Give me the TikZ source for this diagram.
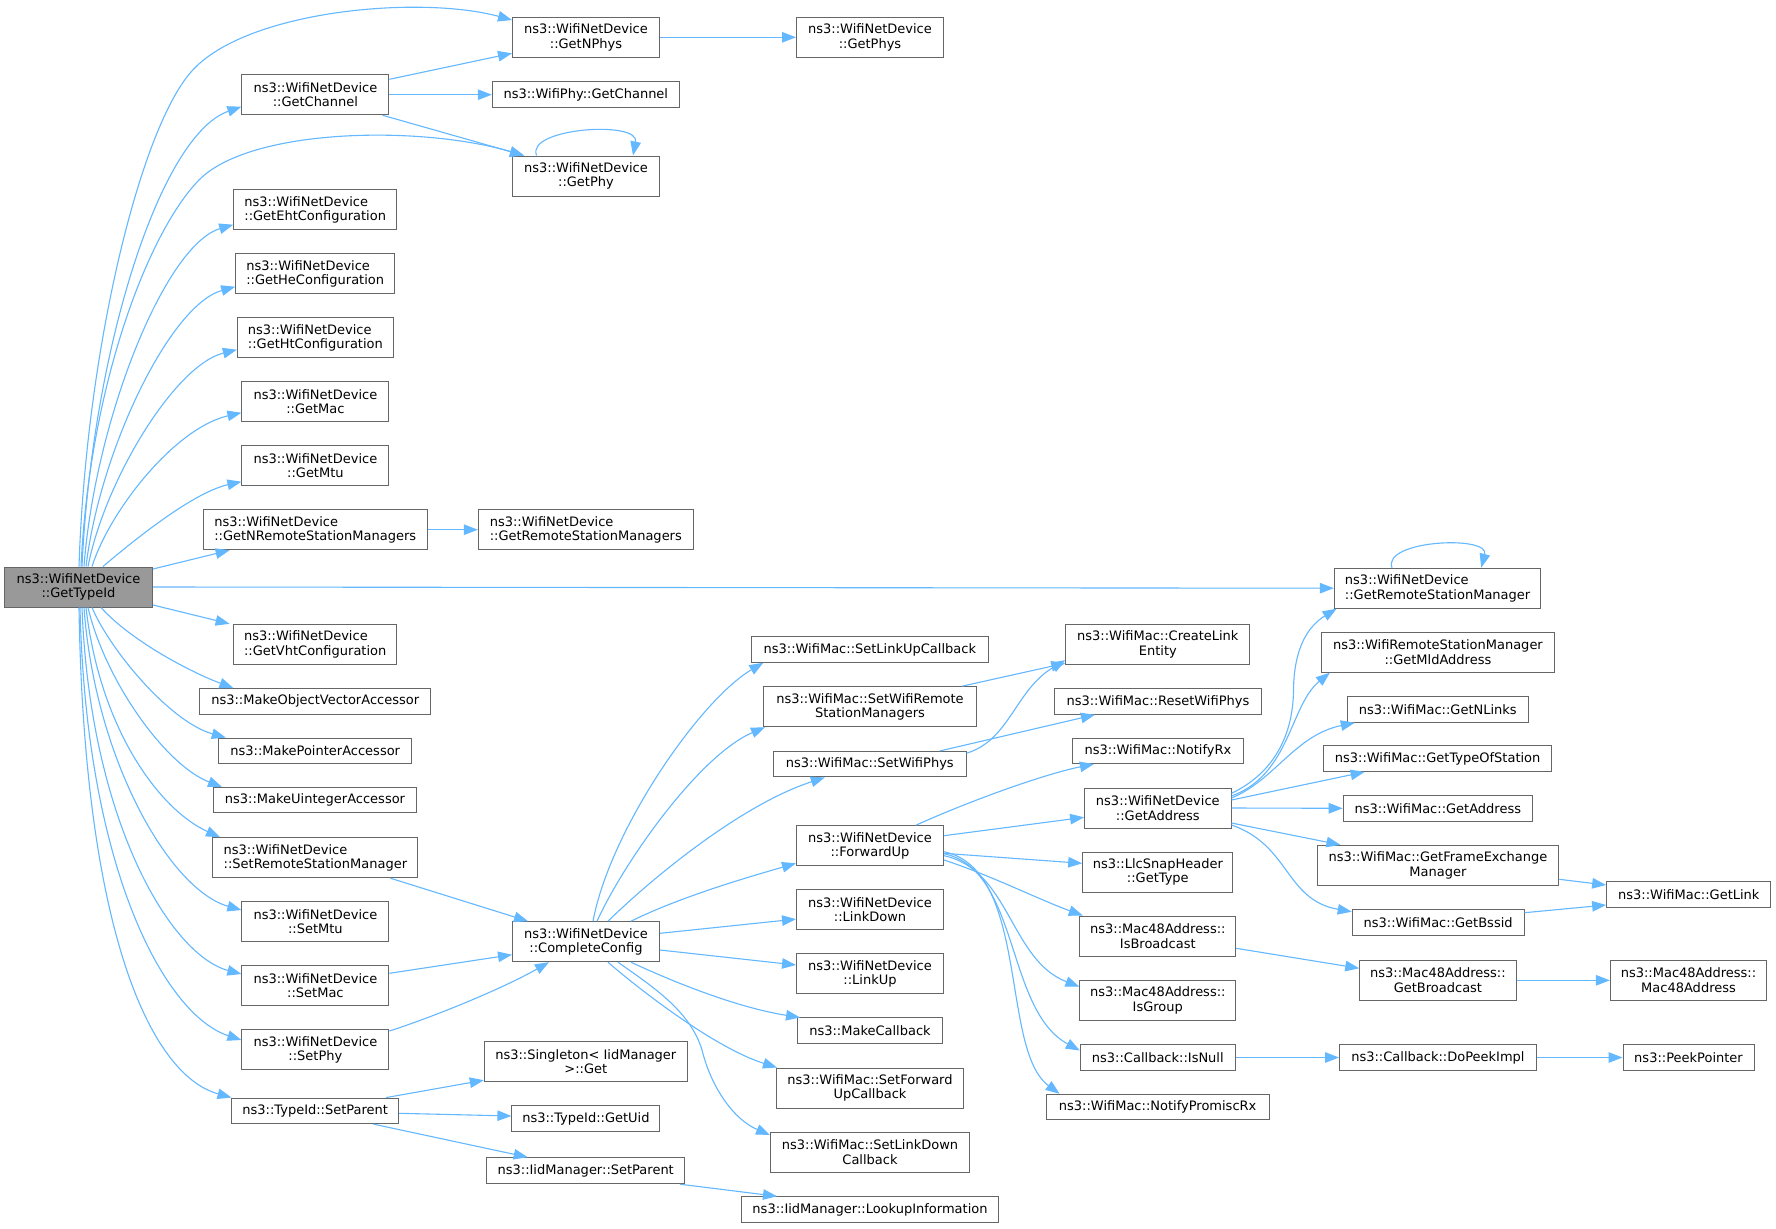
\documentclass[tikz,border=0pt]{standalone}
\usepackage{fontspec}
\setmainfont{DejaVu Sans}
\usetikzlibrary{arrows.meta}
\definecolor{boxgray}{HTML}{666666}
\definecolor{rootfill}{HTML}{999999}
\definecolor{edgeblue}{HTML}{63B8FF}
\begin{document}
\begin{tikzpicture}[x=1pt,y=-1pt,
  fn/.style={draw=boxgray, fill=white, line width=1pt, inner sep=0pt, align=center, text=black, font=\fontsize{13}{14.5}\selectfont},
  fnl/.style={fn, align=left},
  one/.style={minimum height=25.5pt},
  two/.style={minimum height=40pt},
  link/.style={draw=edgeblue, line width=1.1pt, -{Triangle[length=14pt,width=10.5pt]}}]
\fill[white] (0,0) rectangle (1776,1228);
\useasboundingbox (0,0) rectangle (1776,1228);

% column 0
\node[fn,two,fill=rootfill,minimum width=148pt] (gettypeid) at (78.5,587) {ns3::WifiNetDevice\\::GetTypeId};
% column 1
\node[fn,two,minimum width=147pt] (getchannel) at (315.4,94.7) {ns3::WifiNetDevice\\::GetChannel};
\node[fnl,two,minimum width=163pt] (geteht) at (315.2,209.7) {ns3::WifiNetDevice\\::GetEhtConfiguration};
\node[fnl,two,minimum width=159pt] (gethe) at (315.2,273.7) {ns3::WifiNetDevice\\::GetHeConfiguration};
\node[fnl,two,minimum width=156pt] (getht) at (315.4,337.7) {ns3::WifiNetDevice\\::GetHtConfiguration};
\node[fn,two,minimum width=147pt] (getmac) at (315.4,401.7) {ns3::WifiNetDevice\\::GetMac};
\node[fn,two,minimum width=147pt] (getmtu) at (315.4,465.7) {ns3::WifiNetDevice\\::GetMtu};
\node[fnl,two,minimum width=224pt] (getnrsm) at (315.2,529.7) {ns3::WifiNetDevice\\::GetNRemoteStationManagers};
\node[fnl,two,minimum width=163pt] (getvht) at (315.2,644.3) {ns3::WifiNetDevice\\::GetVhtConfiguration};
\node[fn,one,minimum width=231pt] (makeobjvec) at (315.2,701.3) {ns3::MakeObjectVectorAccessor};
\node[fn,one,minimum width=193pt] (makeptr) at (315.2,750.8) {ns3::MakePointerAccessor};
\node[fn,one,minimum width=203pt] (makeuint) at (315,800.2) {ns3::MakeUintegerAccessor};
\node[fnl,two,minimum width=205pt] (setrsm) at (315.4,857.7) {ns3::WifiNetDevice\\::SetRemoteStationManager};
\node[fn,two,minimum width=147pt] (setmtu) at (315.4,921.7) {ns3::WifiNetDevice\\::SetMtu};
\node[fn,two,minimum width=147pt] (setmac) at (315.4,985.7) {ns3::WifiNetDevice\\::SetMac};
\node[fn,two,minimum width=147pt] (setphy) at (315.4,1049.7) {ns3::WifiNetDevice\\::SetPhy};
\node[fn,one,minimum width=167pt] (setparent) at (315.2,1110.8) {ns3::TypeId::SetParent};
% column 2
\node[fn,two,minimum width=147pt] (getnphys) at (586,37.3) {ns3::WifiNetDevice\\::GetNPhys};
\node[fn,one,minimum width=187pt] (wpgetchannel) at (585.8,94.7) {ns3::WifiPhy::GetChannel};
\node[fn,two,minimum width=147pt] (getphy) at (586,176) {ns3::WifiNetDevice\\::GetPhy};
\node[fnl,two,minimum width=215pt] (getrsms) at (585.8,529.7) {ns3::WifiNetDevice\\::GetRemoteStationManagers};
\node[fn,two,minimum width=147pt] (completeconfig) at (586,941.7) {ns3::WifiNetDevice\\::CompleteConfig};
\node[fn,two,minimum width=203pt] (singleton) at (585.8,1061.7) {ns3::Singleton< IidManager\\>::Get};
\node[fn,minimum height=26pt,minimum width=148pt] (getuid) at (585.9,1118.7) {ns3::TypeId::GetUid};
\node[fn,minimum height=26pt,minimum width=197.5pt] (iidsetparent) at (585.7,1170.7) {ns3::IidManager::SetParent};
% column 3
\node[fn,two,minimum width=147pt] (getphys) at (870,37.3) {ns3::WifiNetDevice\\::GetPhys};
\node[fn,one,minimum width=237pt] (setlinkupcb) at (869.8,649.5) {ns3::WifiMac::SetLinkUpCallback};
\node[fn,two,minimum width=213pt] (setwifirsm) at (870,706.7) {ns3::WifiMac::SetWifiRemote\\StationManagers};
\node[fn,one,minimum width=192.5pt] (setwifiphys) at (869.8,764.2) {ns3::WifiMac::SetWifiPhys};
\node[fn,two,minimum width=147pt] (forwardup) at (870,845.7) {ns3::WifiNetDevice\\::ForwardUp};
\node[fn,two,minimum width=147pt] (linkdown) at (870,909.7) {ns3::WifiNetDevice\\::LinkDown};
\node[fn,two,minimum width=147pt] (linkup) at (870,973.7) {ns3::WifiNetDevice\\::LinkUp};
\node[fn,one,minimum width=145pt] (makecallback) at (870,1030.7) {ns3::MakeCallback};
\node[fn,two,minimum width=187pt] (setfwdupcb) at (870,1088) {ns3::WifiMac::SetForward\\UpCallback};
\node[fn,two,minimum width=199pt] (setlinkdowncb) at (870,1152) {ns3::WifiMac::SetLinkDown\\Callback};
\node[fn,one,minimum width=257pt] (lookup) at (870,1209.5) {ns3::IidManager::LookupInformation};
% column 4
\node[fn,two,minimum width=184pt] (createlinkentity) at (1157.8,644.2) {ns3::WifiMac::CreateLink\\Entity};
\node[fn,one,minimum width=207.5pt] (resetwifiphys) at (1157.9,701.5) {ns3::WifiMac::ResetWifiPhys};
\node[fn,one,minimum width=171pt] (notifyrx) at (1157.9,750.8) {ns3::WifiMac::NotifyRx};
\node[fn,two,minimum width=146.4pt] (getaddress) at (1157.8,808) {ns3::WifiNetDevice\\::GetAddress};
\node[fn,two,minimum width=150.2pt] (llcgettype) at (1157.8,872) {ns3::LlcSnapHeader\\::GetType};
\node[fn,two,minimum width=155.8pt] (isbroadcast) at (1157.8,936) {ns3::Mac48Address::\\IsBroadcast};
\node[fn,two,minimum width=155.8pt] (isgroup) at (1157.8,1000.3) {ns3::Mac48Address::\\IsGroup};
\node[fn,one,minimum width=155pt] (isnull) at (1157.8,1057.5) {ns3::Callback::IsNull};
\node[fn,one,minimum width=223pt] (notifypromisc) at (1157.6,1107) {ns3::WifiMac::NotifyPromiscRx};
% column 5
\node[fnl,two,minimum width=206.6pt] (getrsm) at (1437.6,588.2) {ns3::WifiNetDevice\\::GetRemoteStationManager};
\node[fn,two,minimum width=233.3pt] (getmldaddress) at (1437.9,652.2) {ns3::WifiRemoteStationManager\\::GetMldAddress};
\node[fn,one,minimum width=181.6pt] (getnlinks) at (1437.8,709.5) {ns3::WifiMac::GetNLinks};
\node[fn,one,minimum width=228.1pt] (gettypeofstation) at (1437.6,758.7) {ns3::WifiMac::GetTypeOfStation};
\node[fn,one,minimum width=189.2pt] (wmgetaddress) at (1437.8,808.3) {ns3::WifiMac::GetAddress};
\node[fn,two,minimum width=241.7pt] (getfem) at (1437.9,865.3) {ns3::WifiMac::GetFrameExchange\\Manager};
\node[fn,minimum height=26pt,minimum width=171.8pt] (getbssid) at (1438.1,922.7) {ns3::WifiMac::GetBssid};
\node[fn,two,minimum width=156.3pt] (getbroadcast) at (1437.9,980.3) {ns3::Mac48Address::\\GetBroadcast};
\node[fn,one,minimum width=196.7pt] (dopeekimpl) at (1437.9,1057.5) {ns3::Callback::DoPeekImpl};
% column 6
\node[fn,minimum height=26pt,minimum width=164.3pt] (getlink) at (1688.8,894.7) {ns3::WifiMac::GetLink};
\node[fn,two,minimum width=156.3pt] (mac48address) at (1688.5,980.3) {ns3::Mac48Address::\\Mac48Address};
\node[fn,one,minimum width=131pt] (peekpointer) at (1688.5,1057.5) {ns3::PeekPointer};

% GetTypeId upward
\draw[link] ([xshift=0.5pt]gettypeid.north) .. controls (86,350) and (140,130) .. (191,72) .. controls (245,10) and (420,-5) .. ([yshift=17.3pt]getnphys.west);
\draw[link] ([xshift=3.5pt]gettypeid.north) .. controls (92,350) and (160,135) .. ([yshift=-12pt]getchannel.west);
\draw[link] ([xshift=2.5pt]gettypeid.north) .. controls (90,380) and (150,230) .. (199,180) .. controls (250,128) and (420,125) .. ([xshift=-62pt]getphy.north);
\draw[link] ([xshift=5.5pt]gettypeid.north) .. controls (95,420) and (165,245) .. ([yshift=-15pt]geteht.west);
\draw[link] ([xshift=7.5pt]gettypeid.north) .. controls (100,450) and (170,305) .. ([yshift=-13pt]gethe.west);
\draw[link] ([xshift=9.5pt]gettypeid.north) .. controls (105,480) and (175,365) .. ([yshift=-12pt]getht.west);
\draw[link] ([xshift=13.5pt]gettypeid.north) .. controls (110,510) and (175,428) .. ([yshift=-11pt]getmac.west);
\draw[link] ([xshift=24.5pt]gettypeid.north) .. controls (140,535) and (195,492) .. ([yshift=-16pt]getmtu.west);
\draw[link] ([yshift=18pt]gettypeid.east) -- ([xshift=-85.6pt]getnrsm.south);
\draw[link] (gettypeid.east) -- (getrsm.west);
\draw[link] ([yshift=-18pt]gettypeid.east) -- ([xshift=-85.6pt]getvht.north);
% GetTypeId downward
\draw[link] ([xshift=22.5pt]gettypeid.south) .. controls (130,640) and (190,672) .. ([xshift=-81.8pt]makeobjvec.north);
\draw[link] ([xshift=13.5pt]gettypeid.south) .. controls (110,650) and (170,722) .. ([xshift=-89.4pt]makeptr.north);
\draw[link] ([xshift=9.5pt]gettypeid.south) .. controls (105,680) and (165,765) .. ([xshift=-93pt]makeuint.north);
\draw[link] ([xshift=7.5pt]gettypeid.south) .. controls (100,730) and (160,810) .. ([xshift=-95.4pt]setrsm.north);
\draw[link] ([xshift=5.5pt]gettypeid.south) .. controls (95,760) and (170,890) .. ([yshift=11.7pt]setmtu.west);
\draw[link] ([xshift=3.5pt]gettypeid.south) .. controls (90,820) and (170,955) .. ([yshift=11.7pt]setmac.west);
\draw[link] ([xshift=1.5pt]gettypeid.south) .. controls (86,870) and (165,1015) .. ([yshift=9.7pt]setphy.west);
\draw[link] ([xshift=0.5pt]gettypeid.south) .. controls (84,930) and (150,1075) .. ([xshift=-83.7pt]setparent.north);

% column 1 out
\draw[link] ([yshift=15.4pt]getchannel.east) -- ([yshift=-16pt]getnphys.west);
\draw[link] (getchannel.east) -- (wpgetchannel.west);
\draw[link] ([xshift=67pt]getchannel.south) -- ([xshift=-62pt]getphy.north);
\draw[link] ([xshift=-49.4pt]getphy.north) .. controls (525,128) and (640,120) .. ([xshift=47pt]getphy.north);
\draw[link] (getnphys.east) -- (getphys.west);
\draw[link] (getnrsm.east) -- (getrsms.west);
\draw[link] ([xshift=75pt]setrsm.south) -- ([xshift=-58pt]completeconfig.north);
\draw[link] ([yshift=12.4pt]setmac.east) -- ([yshift=-13pt]completeconfig.west);
\draw[link] ([yshift=18.7pt]setphy.east) .. controls (430,1018) and (500,990) .. ([xshift=-37pt]completeconfig.south);
\draw[link] ([xshift=71pt]setparent.north) -- ([yshift=2pt]singleton.south west);
\draw[link] ([yshift=-2.5pt]setparent.east) -- ([yshift=2.7pt]getuid.west);
\draw[link] ([xshift=58pt]setparent.south) -- ([xshift=-58pt]iidsetparent.north);
\draw[link] ([xshift=-5pt]iidsetparent.south east) -- ([xshift=-93pt]lookup.north);

% CompleteConfig out
\draw[link] ([xshift=7pt]completeconfig.north) .. controls (610,830) and (700,700) .. ([xshift=-106.5pt]setlinkupcb.south);
\draw[link] ([xshift=11pt]completeconfig.north) .. controls (625,860) and (700,755) .. ([xshift=-105pt]setwifirsm.south);
\draw[link] ([xshift=22pt]completeconfig.north) .. controls (650,880) and (740,805) .. ([xshift=-45pt]setwifiphys.south);
\draw[link] ([xshift=45pt]completeconfig.north) .. controls (680,897) and (745,878) .. ([yshift=-17.6pt]forwardup.west);
\draw[link] ([yshift=8.4pt]completeconfig.east) -- ([yshift=-9.4pt]linkdown.west);
\draw[link] ([yshift=-8.3pt]completeconfig.east) -- ([yshift=8.7pt]linkup.west);
\draw[link] ([xshift=45pt]completeconfig.south) .. controls (680,985) and (740,1008) .. ([xshift=-70pt]makecallback.north);
\draw[link] ([xshift=22pt]completeconfig.south) .. controls (640,990) and (715,1048) .. ([xshift=-93pt]setfwdupcb.north);
\draw[link] ([xshift=32pt]completeconfig.south) .. controls (650,985) and (690,1010) .. (702,1050) .. controls (712,1090) and (735,1120) .. ([yshift=17pt]setlinkdowncb.west);

% column 3 out
\draw[link] ([xshift=92pt]setwifirsm.north) -- ([yshift=-19pt]createlinkentity.west);
\draw[link] ([yshift=11pt]setwifiphys.east) .. controls (1010,740) and (1015,690) .. ([yshift=-16pt]createlinkentity.west);
\draw[link] ([xshift=70pt]setwifiphys.north) -- ([xshift=-63pt]resetwifiphys.south);
\draw[link] ([xshift=46pt]forwardup.north) .. controls (960,805) and (1040,775) .. ([xshift=-64pt]notifyrx.south);
\draw[link] ([yshift=10pt]forwardup.east) -- ([yshift=-9.3pt]getaddress.west);
\draw[link] ([yshift=-7.6pt]forwardup.east) -- ([yshift=8.7pt]llcgettype.west);
\draw[link] ([yshift=-14.3pt]forwardup.east) .. controls (990,875) and (1040,900) .. ([xshift=-75pt]isbroadcast.north);
\draw[link] ([yshift=-10pt]forwardup.east) .. controls (1010,870) and (1010,960) .. ([yshift=13.6pt]isgroup.west);
\draw[link] ([yshift=-8pt]forwardup.east) .. controls (1020,870) and (1005,1010) .. ([yshift=7pt]isnull.west);
\draw[link] ([yshift=-6pt]forwardup.east) .. controls (1030,870) and (1000,1050) .. ([xshift=-98pt]notifypromisc.north);

% GetAddress out
\draw[link] ([yshift=14.7pt]getaddress.east) .. controls (1270,775) and (1293,740) .. (1293.5,690) .. controls (1294,645) and (1310,625) .. ([xshift=-101pt]getrsm.south);
\draw[link] ([yshift=12pt]getaddress.east) .. controls (1290,775) and (1290,705) .. ([xshift=-108pt]getmldaddress.south);
\draw[link] ([yshift=10pt]getaddress.east) .. controls (1275,780) and (1295,735) .. ([xshift=-83pt]getnlinks.south);
\draw[link] ([yshift=8pt]getaddress.east) -- ([xshift=-73pt]gettypeofstation.south);
\draw[link] (getaddress.east) -- (wmgetaddress.west);
\draw[link] ([yshift=-15pt]getaddress.east) -- ([xshift=-97.5pt]getfem.north);
\draw[link] ([yshift=-17pt]getaddress.east) .. controls (1290,845) and (1285,900) .. ([yshift=11pt]getbssid.west);
\draw[link] ([xshift=-45.6pt]getrsm.north) .. controls (1382,540) and (1490,535) .. ([xshift=43.6pt]getrsm.north);

% right chains
\draw[link] ([yshift=-14pt]getfem.east) -- ([yshift=9.7pt]getlink.west);
\draw[link] ([yshift=10pt]getbssid.east) -- ([yshift=-10.3pt]getlink.west);
\draw[link] ([yshift=-12.3pt]isbroadcast.east) -- ([yshift=12pt]getbroadcast.west);
\draw[link] (getbroadcast.east) -- (mac48address.west);
\draw[link] (isnull.east) -- (dopeekimpl.west);
\draw[link] (dopeekimpl.east) -- (peekpointer.west);
\end{tikzpicture}
\end{document}
